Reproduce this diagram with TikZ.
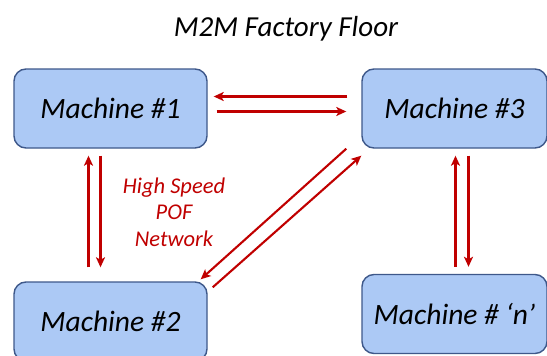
\documentclass[tikz,border=0pt]{standalone}
\usepackage{fontspec}
\setmainfont{Carlito}
\usepackage{xcolor}
\usepackage{tikz}
\usetikzlibrary{arrows.meta}
\definecolor{boxfill}{RGB}{172,201,245}
\definecolor{boxline}{RGB}{62,88,138}
\definecolor{linkred}{RGB}{192,0,0}

\begin{document}
\begin{tikzpicture}[x=1pt,y=1pt,
  machine/.style={draw=boxline,fill=boxfill,line width=1.4pt,rounded corners=12pt,
    minimum width=193pt,minimum height=79pt,font=\fontsize{29.5}{35}\selectfont\itshape},
  link/.style={-{Stealth[length=10pt,width=9pt,inset=2.5pt]},draw=linkred,line width=2.1pt}]
  \useasboundingbox (0,0) rectangle (547,-356);
  \draw (286,-37) node[anchor=base,font=\fontsize{29}{34}\selectfont\itshape] (title) {M2M Factory Floor}
   (110.5,-108.5) node[machine] (m1) {Machine \#1}
   (454.5,-108.5) node[machine,minimum width=185pt] (m3) {Machine \#3}
   (110.5,-321.5) node[machine] (m2) {Machine \#2}
   (454.5,-314) node[machine,minimum width=185pt] (mn) {Machine \# `n'}
   (174,-212) node[align=center,text=linkred,font=\fontsize{22.5}{26.5}\selectfont\itshape] (pof) {High Speed\\POF\\Network};
  \draw[link] ([xshift=-14pt,yshift=12pt]m3.west) -- ([xshift=6pt,yshift=12pt]m1.east);
  \draw[link] ([xshift=9pt,yshift=-3pt]m1.east) -- ([xshift=-15pt,yshift=-3pt]m3.west);
  \draw[link] ([xshift=-22pt,yshift=14pt]m2.north) -- ([xshift=-22pt,yshift=-7pt]m1.south);
  \draw[link] ([xshift=-10pt,yshift=-7pt]m1.south) -- ([xshift=-10pt,yshift=14pt]m2.north);
  \draw[link] ([xshift=1pt,yshift=7pt]mn.north) -- ([xshift=1pt,yshift=-7pt]m3.south);
  \draw[link] ([xshift=14pt,yshift=-7pt]m3.south) -- ([xshift=14pt,yshift=7pt]mn.north);
  \draw[link] ([xshift=-15pt]m3.south west) -- ([xshift=-7pt,yshift=2pt]m2.north east);
  \draw[link] ([xshift=5pt,yshift=-6pt]m2.north east) -- ([yshift=-7pt]m3.south west);
\end{tikzpicture}
\end{document}
